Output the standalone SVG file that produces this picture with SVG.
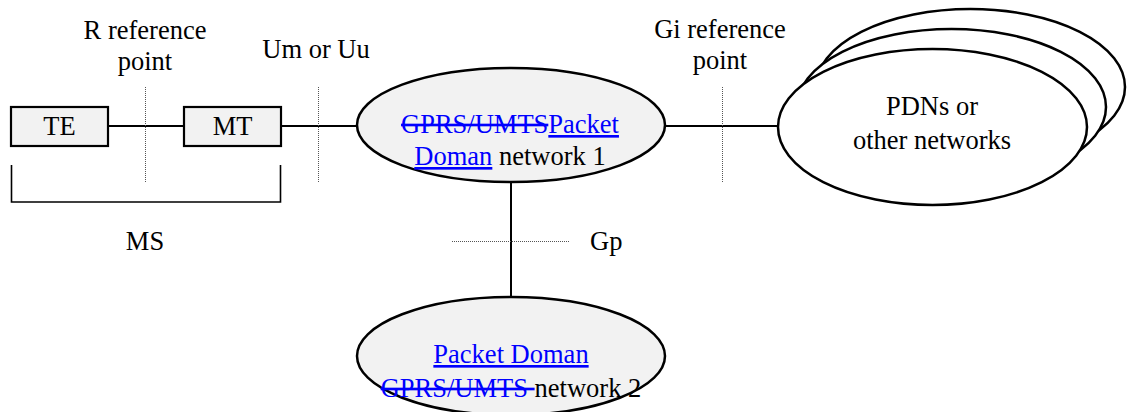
<svg xmlns="http://www.w3.org/2000/svg" width="1127" height="412" viewBox="0 0 1127 412">
<style>
text { font-family: 'Liberation Serif', Tinos, 'Times New Roman', 'DejaVu Serif', serif; font-size: 26.5px; fill: #000; }
.ins { fill: #0000ff; text-decoration: underline; }
.del { fill: #0000ff; text-decoration: line-through; }
.box { fill: #f2f2f2; stroke: #000; stroke-width: 2.2; }
.net { fill: #f2f2f2; stroke: #000; stroke-width: 2.5; }
.pdn { fill: #fff; stroke: #000; stroke-width: 2.5; }
.link { stroke: #000; stroke-width: 2; fill: none; }
.ref { stroke: #555; stroke-width: 1; stroke-dasharray: 1 1; fill: none; }
</style>
<rect width="1127" height="412" fill="#fff"/>
<g id="connectors">
<line class="link" x1="108" y1="126" x2="184" y2="126"/>
<line class="link" x1="281" y1="126" x2="357" y2="126"/>
<line class="link" x1="665" y1="126" x2="778" y2="126"/>
<line class="link" x1="511" y1="182" x2="511" y2="298"/>
</g>
<g id="reference-points">
<line class="ref" x1="145.5" y1="87" x2="145.5" y2="183"/>
<line class="ref" x1="318.5" y1="87" x2="318.5" y2="183"/>
<line class="ref" x1="722.5" y1="87" x2="722.5" y2="183"/>
<line class="ref" x1="452" y1="241.5" x2="569" y2="241.5"/>
<text x="145" y="39" text-anchor="middle" font-family="Liberation Serif, serif">R reference</text>
<text x="145" y="70" text-anchor="middle">point</text>
<text x="316" y="58" text-anchor="middle">Um or Uu</text>
<text x="720" y="38" text-anchor="middle">Gi reference</text>
<text x="720" y="69" text-anchor="middle">point</text>
<text x="590" y="250">Gp</text>
</g>
<g id="te">
<rect class="box" x="11" y="107" width="97" height="39"/>
<text x="59.5" y="135" text-anchor="middle">TE</text>
</g>
<g id="mt">
<rect class="box" x="184" y="107" width="97" height="39"/>
<text x="232.5" y="135" text-anchor="middle">MT</text>
</g>
<g id="ms">
<path d="M11.5,165 V202 H280.5 V165" fill="none" stroke="#000" stroke-width="1.6"/>
<text x="145" y="250" text-anchor="middle">MS</text>
</g>
<g id="network1">
<ellipse class="net" cx="511" cy="125" rx="154" ry="57"/>
<text x="510" y="133" text-anchor="middle"><tspan class="del">GPRS/UMTS</tspan><tspan class="ins">Packet</tspan></text>
<text x="510" y="165" text-anchor="middle"><tspan class="ins">Doman</tspan> network 1</text>
</g>
<g id="network2">
<ellipse class="net" cx="511" cy="356" rx="154" ry="59"/>
<text x="511" y="363" text-anchor="middle"><tspan class="ins">Packet Doman</tspan></text>
<text x="511" y="397" text-anchor="middle"><tspan class="del">GPRS/UMTS </tspan>network 2</text>
</g>
<g id="pdns">
<ellipse class="pdn" cx="970.5" cy="87" rx="154.5" ry="78"/>
<ellipse class="pdn" cx="951.5" cy="107" rx="154.5" ry="78"/>
<ellipse class="pdn" cx="932.5" cy="127" rx="154.5" ry="78"/>
<text x="932" y="115" text-anchor="middle">PDNs or</text>
<text x="932" y="149" text-anchor="middle">other networks</text>
</g>
</svg>
